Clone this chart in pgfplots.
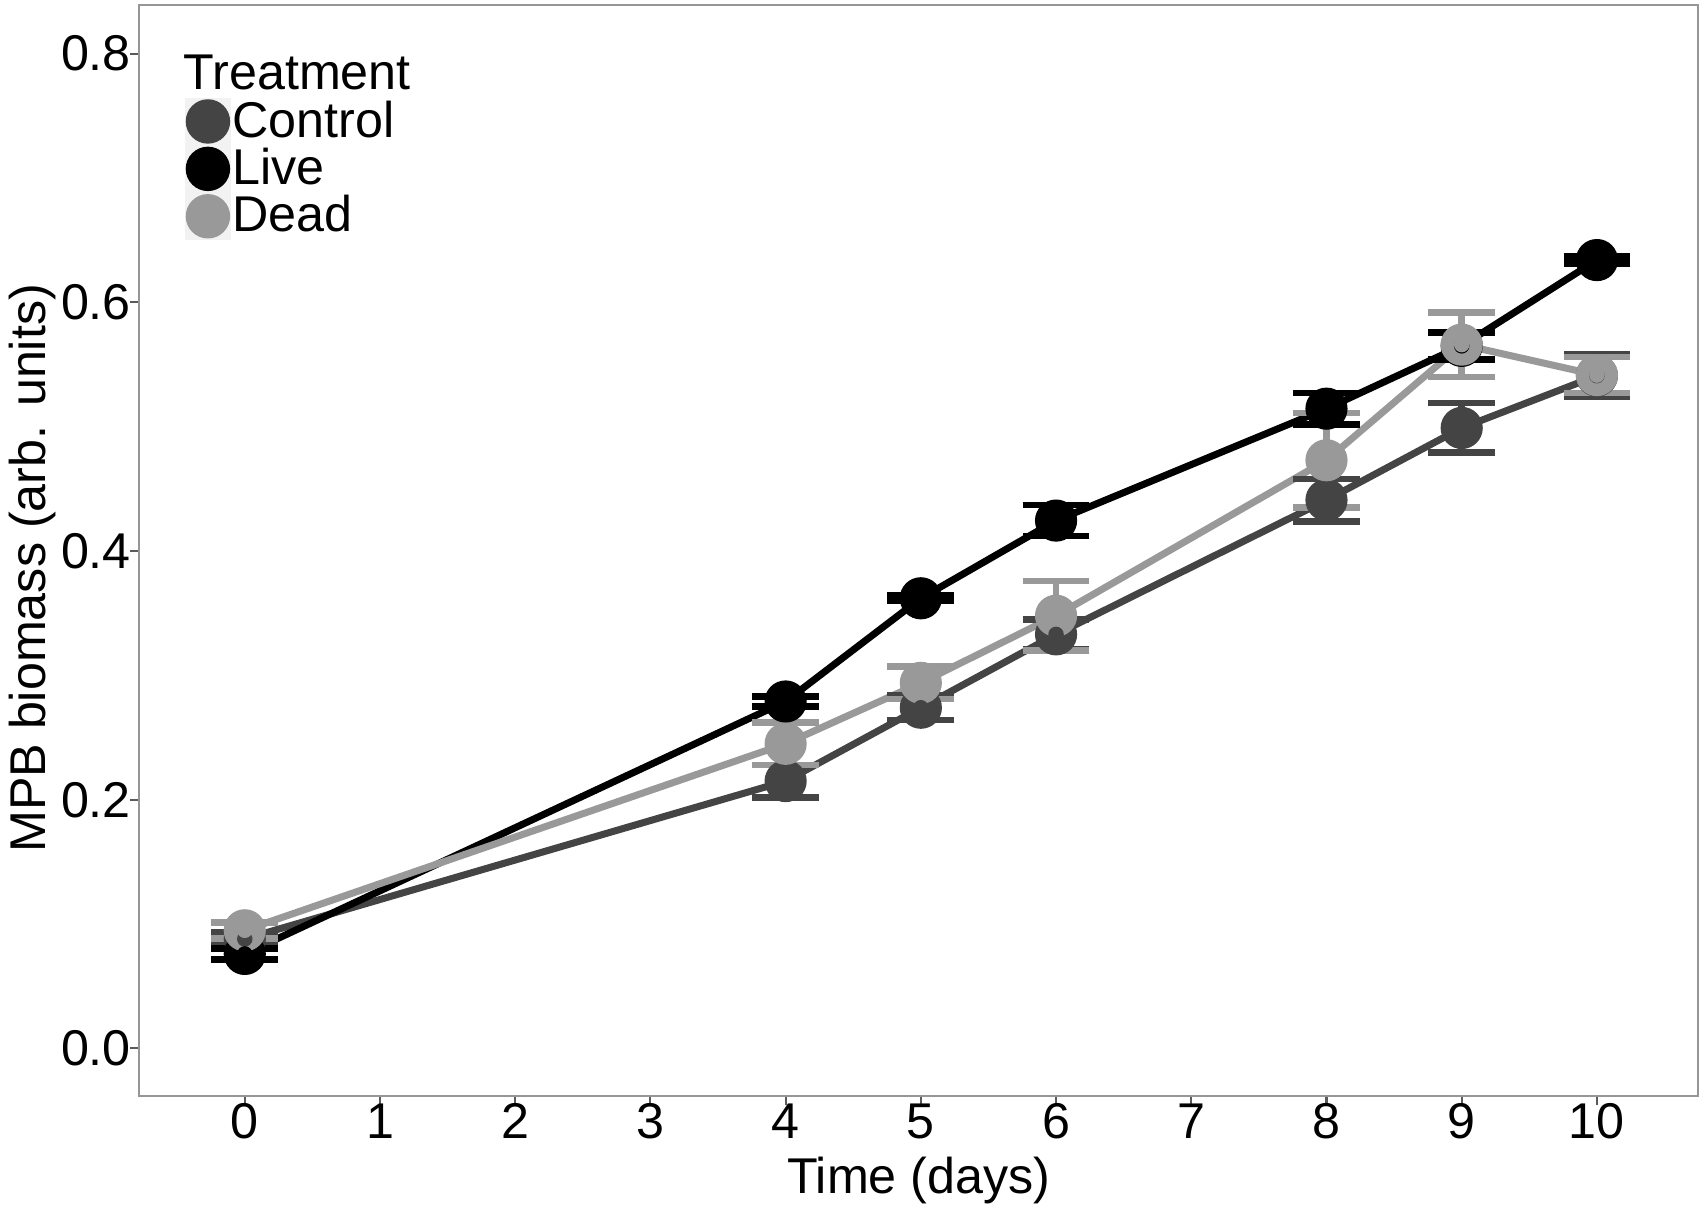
\documentclass[border=0pt]{standalone}
\usepackage{fontspec}
\setmainfont{Liberation Sans}
\usepackage{pgfplots}
\usepackage{pgfplotstable}
\pgfplotsset{compat=1.18}
\definecolor{ctrl}{RGB}{68,68,68}
\definecolor{live}{RGB}{0,0,0}
\definecolor{dead}{RGB}{153,153,153}
\definecolor{border}{RGB}{150,150,150}
\definecolor{tickc}{RGB}{90,90,90}
\definecolor{legbg}{RGB}{242,242,242}

\pgfplotstableread{
x y e
0 0.088 0.005
4 0.215 0.013
5 0.274 0.010
6 0.333 0.012
8 0.441 0.017
9 0.499 0.020
10 0.541 0.017
}\ctrltab
\pgfplotstableread{
x y e
0 0.076 0.0045
4 0.279 0.004
5 0.362 0.002
6 0.4245 0.0125
8 0.5145 0.0125
9 0.565 0.011
10 0.634 0.003
}\livetab
\pgfplotstableread{
x y e
0 0.095 0.0065
4 0.245 0.017
5 0.294 0.013
6 0.348 0.028
8 0.473 0.038
9 0.566 0.026
10 0.5415 0.0145
}\deadtab

\begin{document}
\begin{tikzpicture}
\path[use as bounding box] (-1.393cm,-1.128cm) rectangle (15.677cm,10.964cm);
\begin{axis}[
  at={(0,0)}, anchor=south west,
  scale only axis, width=15.59cm, height=10.91cm,
  xmin=-0.78, xmax=10.75, ymin=-0.0386, ymax=0.8388,
  xtick={0,1,2,3,4,5,6,7,8,9,10},
  ytick={0,0.2,0.4,0.6,0.8},
  tick pos=left, tick align=outside, major tick length=0.09cm,
  tick style={draw=tickc, line width=0.6pt},
  axis line style={draw=border, line width=0.6pt},
  /pgf/number format/assume math mode=true,
  ticklabel style={font=\fontsize{14.3}{16}\selectfont, text=black},
  yticklabel style={xshift=0.13cm, /pgf/number format/fixed, /pgf/number format/fixed zerofill, /pgf/number format/precision=1},
  xticklabel style={yshift=0.14cm},
  xlabel={Time (days)}, ylabel={MPB biomass (arb. units)},
  label style={font=\fontsize{14.3}{16}\selectfont},
  xlabel style={at={(axis description cs:0.5,-0.055)}, anchor=north, inner sep=0pt},
  ylabel style={at={(axis description cs:-0.084,0.484)}, anchor=north, inner sep=0pt, rotate=0},
  legend style={at={(rel axis cs:0.029,0.916)}, anchor=north west, draw=none, fill=none,
    font=\fontsize{14.3}{16}\selectfont, inner sep=0pt, row sep=0pt,
    cells={anchor=west}, nodes={inner sep=0.5pt}},
  legend image code/.code={\fill[legbg] (0cm,-0.23cm) rectangle (0.44cm,0.23cm);
     \fill[#1] (0.22cm,0cm) circle (0.215cm);},
]
% lines
\addplot[ctrl, line width=2pt, forget plot] table[x=x,y=y] {\ctrltab};
\addplot[live, line width=2pt, forget plot] table[x=x,y=y] {\livetab};
\addplot[dead, line width=2pt, forget plot] table[x=x,y=y] {\deadtab};
% points
\addplot[only marks, mark=*, mark size=5.8pt, color=ctrl, mark options={draw=none, fill=ctrl}] table[x=x,y=y] {\ctrltab};
\addlegendentry{Control}
\addplot[only marks, mark=*, mark size=5.8pt, color=live, mark options={draw=none, fill=live}] table[x=x,y=y] {\livetab};
\addlegendentry{Live}
\addplot[only marks, mark=*, mark size=5.8pt, color=dead, mark options={draw=none, fill=dead}] table[x=x,y=y] {\deadtab};
\addlegendentry{Dead}
% error bars
\addplot[only marks, mark=none, color=ctrl, forget plot,
  error bars/.cd, y dir=both, y explicit,
  error bar style={line width=1.9pt, color=ctrl},
  error mark options={line width=1.9pt, mark size=9.5pt, rotate=90, color=ctrl}]
  table[x=x,y=y,y error=e] {\ctrltab};
\addplot[only marks, mark=none, color=live, forget plot,
  error bars/.cd, y dir=both, y explicit,
  error bar style={line width=1.9pt, color=live},
  error mark options={line width=1.9pt, mark size=9.5pt, rotate=90, color=live}]
  table[x=x,y=y,y error=e] {\livetab};
\addplot[only marks, mark=none, color=dead, forget plot,
  error bars/.cd, y dir=both, y explicit,
  error bar style={line width=1.9pt, color=dead},
  error mark options={line width=1.9pt, mark size=9.5pt, rotate=90, color=dead}]
  table[x=x,y=y,y error=e] {\deadtab};
\node[anchor=north west, inner sep=0pt, font=\fontsize{14.3}{16}\selectfont] at (rel axis cs:0.028,0.955) {Treatment};
\end{axis}
\end{tikzpicture}
\end{document}
